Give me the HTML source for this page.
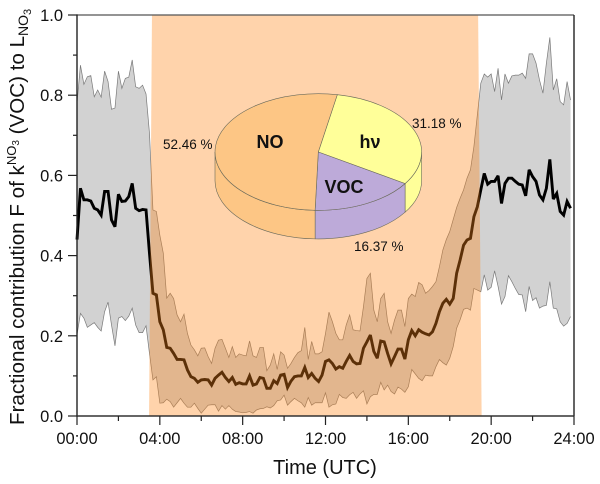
<!DOCTYPE html>
<html>
<head>
<meta charset="utf-8">
<style>
html,body{margin:0;padding:0;background:#fff;}
svg{display:block;}
text{font-family:"Liberation Sans",Arial,sans-serif;fill:#111;}
</style>
</head>
<body>
<svg id="chart" xmlns="http://www.w3.org/2000/svg" width="600" height="484" viewBox="0 0 600 484"></svg>
<script>
const meanSeries=[.44,.568,.539,.539,.536,.518,.514,.501,.56,.56,.489,.472,.553,.535,.536,.547,.58,.518,.512,.515,.514,.406,.306,.302,.235,.215,.171,.169,.156,.141,.141,.14,.115,.098,.094,.084,.09,.091,.09,.077,.094,.102,.109,.096,.086,.096,.079,.083,.08,.08,.1,.077,.08,.096,.094,.069,.069,.088,.081,.102,.104,.071,.087,.098,.1,.1,.121,.096,.106,.094,.086,.102,.136,.14,.131,.117,.123,.119,.136,.151,.136,.13,.131,.169,.185,.202,.161,.144,.187,.185,.156,.13,.148,.167,.167,.142,.19,.213,.2,.215,.209,.205,.202,.21,.231,.26,.281,.291,.279,.293,.356,.389,.426,.439,.443,.497,.522,.564,.605,.578,.585,.585,.599,.53,.58,.593,.593,.585,.578,.576,.549,.614,.597,.585,.551,.539,.568,.64,.541,.555,.51,.501,.535,.518];
const upperSeries=[.78,.875,.827,.846,.849,.796,.813,.795,.86,.834,.765,.768,.86,.817,.842,.845,.888,.821,.817,.825,.803,.705,.514,.51,.451,.406,.294,.306,.293,.252,.235,.254,.206,.177,.165,.15,.169,.17,.148,.131,.169,.189,.191,.169,.146,.173,.146,.155,.152,.15,.187,.15,.146,.171,.171,.113,.127,.155,.116,.16,.152,.119,.131,.146,.158,.163,.221,.141,.186,.155,.155,.16,.206,.259,.235,.206,.19,.19,.227,.252,.215,.213,.212,.273,.343,.356,.264,.235,.293,.306,.235,.206,.239,.264,.264,.223,.293,.304,.298,.333,.327,.306,.313,.323,.335,.372,.414,.44,.46,.49,.52,.543,.564,.593,.614,.672,.751,.83,.853,.845,.853,.809,.867,.788,.853,.83,.848,.85,.85,.855,.842,.903,.903,.88,.838,.805,.88,.944,.813,.841,.784,.776,.834,.788];
const lowerSeries=[.202,.256,.244,.221,.227,.233,.221,.212,.26,.284,.227,.175,.244,.248,.238,.249,.269,.227,.208,.208,.225,.156,.09,.098,.032,.033,.042,.036,.022,.033,.044,.032,.022,.022,.032,.019,.007,.017,.027,.028,.028,.012,.026,.017,.026,.017,.011,.01,.008,.009,.011,.007,.015,.018,.019,.023,.02,.026,.038,.04,.052,.027,.036,.044,.038,.033,.022,.046,.027,.033,.033,.033,.058,.022,.028,.03,.054,.046,.044,.053,.059,.044,.055,.063,.03,.048,.054,.054,.084,.065,.077,.061,.055,.072,.067,.059,.073,.116,.105,.094,.088,.102,.1,.1,.123,.141,.133,.127,.144,.173,.219,.24,.266,.269,.264,.318,.314,.31,.352,.314,.321,.362,.323,.279,.298,.35,.335,.318,.303,.302,.26,.323,.288,.295,.269,.274,.276,.335,.269,.267,.235,.224,.231,.248];
const sampleStepHours=1/6;
const xTickLabels=["00:00","04:00","08:00","12:00","16:00","20:00","24:00"];
const xTickHours=[0,4,8,12,16,20,24];
const xMinorHours=[2,6,10,14,18,22];
const yTickValues=[0,.2,.4,.6,.8,1];
const yTickLabels=["0.0","0.2","0.4","0.6","0.8","1.0"];
const yMinorValues=[.1,.3,.5,.7,.9];
const nightBandTopHours=[3.62,19.37];
const nightBandBottomHours=[3.48,19.54];
const pieNames=["hν","VOC","NO"];
const piePercents=[31.18,16.37,52.46];
const pieColors=["#ffff99","#bdaad9","#fdc685"];

const NS="http://www.w3.org/2000/svg";
const svg=document.getElementById("chart");
const L=77,R=574,T=15,B=416;
const xAxis=h=>L+(h/24)*(R-L);
const yAxis=v=>B-v*(B-T);
function add(tag,attrs,parent){
  const el=document.createElementNS(NS,tag);
  for(const k in attrs)el.setAttribute(k,attrs[k]);
  (parent||svg).appendChild(el);
  return el;
}
function linePath(arr){
  return arr.map((v,i)=>(i?"L":"M")+xAxis(i*sampleStepHours).toFixed(2)+" "+yAxis(v).toFixed(2)).join(" ");
}
function areaPath(hi,lo){
  let d=linePath(hi);
  for(let i=lo.length-1;i>=0;i--)d+=" L"+xAxis(i*sampleStepHours).toFixed(2)+" "+yAxis(lo[i]).toFixed(2);
  return d+" Z";
}
let el;
el=add("path",{d:areaPath(upperSeries,lowerSeries),fill:"#d2d2d2",stroke:"none"});


el=add("path",{d:linePath(upperSeries),fill:"none",stroke:"#7a7a7a","stroke-width":.7});


el=add("path",{d:linePath(lowerSeries),fill:"none",stroke:"#7a7a7a","stroke-width":.7});


el=add("path",{d:linePath(meanSeries),fill:"none",stroke:"#000","stroke-width":2.9,"stroke-linejoin":"miter","stroke-miterlimit":3});


el=add("polygon",{points:[xAxis(nightBandTopHours[0])+","+T,xAxis(nightBandTopHours[1])+","+T,xAxis(nightBandBottomHours[1])+","+B,xAxis(nightBandBottomHours[0])+","+B].join(" "),fill:"rgb(255,133,22)","fill-opacity":.36});



/* pie */
const cx=318.3,cy=152.0,rx=103.3,ry=58.3,depth=28.6,startDeg=10.6;
const pt=(deg,dy)=>{const a=deg*Math.PI/180;return [cx+rx*Math.sin(a),cy-ry*Math.cos(a)+(dy||0)];};
const fmt=p=>p[0].toFixed(2)+" "+p[1].toFixed(2);
const total=piePercents.reduce((a,b)=>a+b,0);
let cursor=startDeg;
const sliceAngles=piePercents.map(p=>{const a=cursor;cursor+=p/total*360;return [a,cursor];});
sliceAngles.forEach((s,i)=>{
  const a0=Math.max(s[0],90),a1=Math.min(s[1],270);
  if(a1<=a0)return;
  const d="M"+fmt(pt(a0))+" A"+rx+" "+ry+" 0 0 1 "+fmt(pt(a1))+" L"+fmt(pt(a1,depth))+" A"+rx+" "+ry+" 0 0 0 "+fmt(pt(a0,depth))+" Z";
  const wall=add("path",{d:d,fill:pieColors[i],stroke:"#6a6a5a","stroke-width":.6});
  
  
});
sliceAngles.forEach((s,i)=>{
  const large=(s[1]-s[0])>180?1:0;
  const d="M"+cx+" "+cy+" L"+fmt(pt(s[0]))+" A"+rx+" "+ry+" 0 "+large+" 1 "+fmt(pt(s[1]))+" Z";
  const slice=add("path",{d:d,fill:pieColors[i],stroke:"#6a6a5a","stroke-width":.6});
  
  
});
const pieLabelPos=[[370,148],[344,193],[270,148]];
pieNames.forEach((n,i)=>{
  const t=add("text",{x:pieLabelPos[i][0],y:pieLabelPos[i][1],"text-anchor":"middle","font-size":18,"font-weight":"bold",fill:"#000"});
  t.textContent=n;
  
  
});
const piePctPos=[[412,128],[354,251],[163,149]];
piePercents.forEach((p,i)=>{
  const t=add("text",{x:piePctPos[i][0],y:piePctPos[i][1],"font-size":13.5});
  t.textContent=p.toFixed(2)+" %";
  
  
});

/* frame */
el=add("path",{d:`M${L} ${T} H${R}`,stroke:"#555","stroke-width":1.2,fill:"none"});


el=add("path",{d:`M${R} ${T} V${B}`,stroke:"#222","stroke-width":1.4,fill:"none"});


el=add("path",{d:`M${L} ${T-.6} V${B+.6}`,stroke:"#222","stroke-width":1.4,fill:"none"});


el=add("path",{d:`M${L} ${B} H${R}`,stroke:"#333","stroke-width":1.4,fill:"none"});



yTickValues.forEach((v,i)=>{
  const y=yAxis(v);
  const tk=add("line",{x1:68,x2:L,y1:y,y2:y,stroke:"#222","stroke-width":1.2});
  
  
  const t=add("text",{x:63,y:y+6,"text-anchor":"end","font-size":16.5});
  t.textContent=yTickLabels[i];
  
  
});
yMinorValues.forEach(v=>{
  const y=yAxis(v);
  const tk=add("line",{x1:73,x2:L,y1:y,y2:y,stroke:"#222","stroke-width":1.2});
  
  
});
xTickHours.forEach((h,i)=>{
  const x=xAxis(h);
  const tk=add("line",{x1:x,x2:x,y1:B,y2:425,stroke:"#222","stroke-width":1.2});
  
  
  const t=add("text",{x:x,y:444,"text-anchor":"middle","font-size":16.5});
  t.textContent=xTickLabels[i];
  
  
});
xMinorHours.forEach(h=>{
  const x=xAxis(h);
  const tk=add("line",{x1:x,x2:x,y1:B,y2:421,stroke:"#222","stroke-width":1.2});
  
  
});
el=add("text",{x:325,y:474,"text-anchor":"middle","font-size":20});
el.textContent="Time (UTC)";



/* y title */
const yt=add("text",{transform:"translate(24,425) rotate(-90)","font-size":20.6});


function span(txt,size,dy){
  const s=add("tspan",{"font-size":size,dy:dy},yt);
  s.textContent=txt;
  return s;
}
span("Fractional contribution F of k",20.6,0);
span("NO",13,-8);
span("3",10,3);
span(" (VOC) to L",20.6,5);
span("NO",14,4);
span("3",11,3);
</script>
</body>
</html>
